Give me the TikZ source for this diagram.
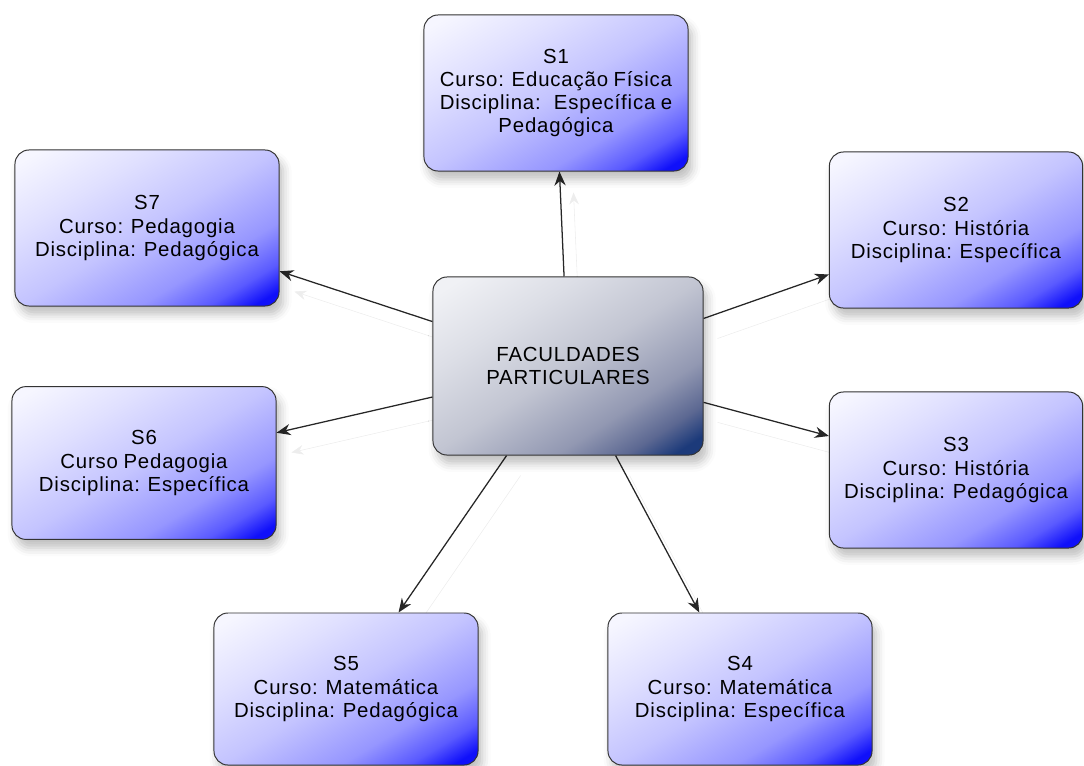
\documentclass[tikz,border=0pt]{standalone}
\usepackage{fontspec}
\setmainfont{Liberation Sans}[LetterSpace=4, WordSpace=0.85]
\usetikzlibrary{arrows.meta,shadows.blur,backgrounds}

\definecolor{boxa}{RGB}{246,246,255}
\definecolor{boxb}{RGB}{224,224,255}
\definecolor{boxc}{RGB}{196,196,255}
\definecolor{boxd}{RGB}{150,150,255}
\definecolor{boxe}{RGB}{90,90,255}
\definecolor{boxf}{RGB}{16,16,250}
\definecolor{huba}{RGB}{240,241,245}
\definecolor{hubb}{RGB}{220,222,230}
\definecolor{hubc}{RGB}{194,197,210}
\definecolor{hubd}{RGB}{146,152,178}
\definecolor{hube}{RGB}{92,104,146}
\definecolor{hubf}{RGB}{28,58,122}

\pgfdeclareverticalshading{boxshade}{100bp}{color(0bp)=(boxf); color(19bp)=(boxf);
  color(25bp)=(boxe); color(34bp)=(boxd); color(50bp)=(boxc); color(66bp)=(boxb);
  color(81bp)=(boxa); color(100bp)=(boxa)}
\pgfdeclareverticalshading{hubshade}{100bp}{color(0bp)=(hubf); color(19bp)=(hubf);
  color(25bp)=(hube); color(34bp)=(hubd); color(50bp)=(hubc); color(66bp)=(hubb);
  color(81bp)=(huba); color(100bp)=(huba)}

\tikzset{
  sbox/.style = {draw = black!80, line width = 0.7pt, rounded corners = 10pt,
    minimum width = 6.6cm, minimum height = 3.9cm, align = center,
    shading = boxshade, shading angle = 31,
    blur shadow = {shadow xshift = 3pt, shadow yshift = -6pt,
      shadow blur radius = 6pt, shadow opacity = 25}},
  hub/.style = {sbox, minimum width = 6.75cm, minimum height = 4.45cm,
    shading = hubshade, shading angle = 33},
  link/.style = {draw = black!85, line width = 0.9pt,
    -{Stealth[length = 10pt, width = 8pt]},
    preaction = {draw = black!7, -{Stealth[length = 10pt, width = 8pt]},
      transform canvas = {shift = {(0.35cm,-0.5cm)}}}}
}

\begin{document}
\begin{tikzpicture}[x = 0.025cm, y = -0.025cm, font = \fontsize{14.5}{16.5}\selectfont]
        \useasboundingbox (0,0) rectangle (1084,765);

        \node[hub] (c) at (568,366) {FACULDADES\\PARTICULARES};

        \node[sbox] (s1) at (556,93) {S1\\Curso: Educação Física\\Disciplina: \ Específica e\\Pedagógica};
        \node[sbox, minimum width = 6.33cm] (s2) at (956,230) {S2\\Curso: História\\Disciplina: Específica};
        \node[sbox, minimum width = 6.33cm] (s3) at (956,470) {S3\\Curso: História\\Disciplina: Pedagógica};
        \node[sbox, minimum height = 3.8cm] (s4) at (740,689) {S4\\Curso: Matemática\\Disciplina: Específica};
        \node[sbox, minimum height = 3.8cm] (s5) at (346,689) {S5\\Curso: Matemática\\Disciplina: Pedagógica};
        \node[sbox, minimum height = 3.82cm] (s6) at (144,463) {S6\\Curso Pedagogia\\Disciplina: Específica};
        \node[sbox] (s7) at (147,228) {S7\\Curso: Pedagogia\\Disciplina: Pedagógica};

        % connectors behind the boxes
        \begin{scope}[on background layer]
            \foreach \i in {1,...,7}
                \draw[link] (c) -- (s\i);
        \end{scope}
    \end{tikzpicture}
\end{document}
